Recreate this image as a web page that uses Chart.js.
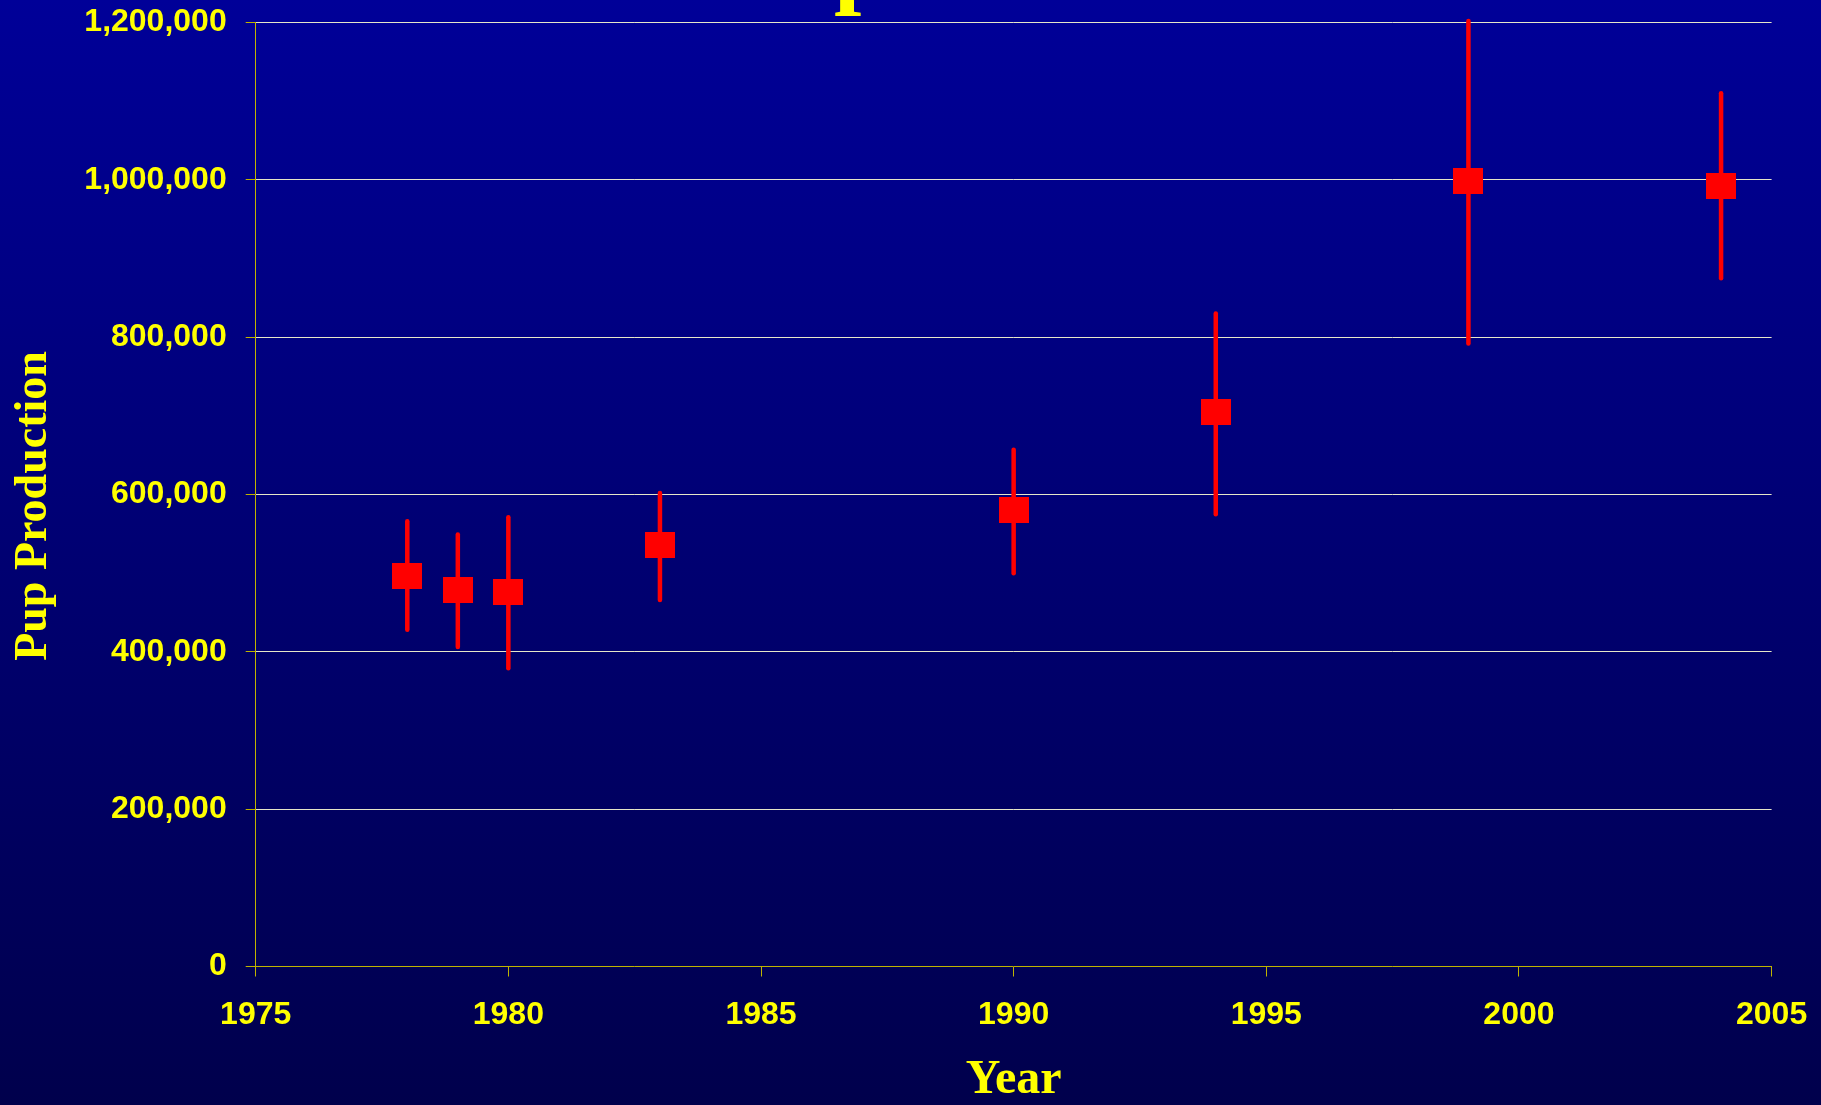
<!DOCTYPE html>
<html>
<head>
<meta charset="utf-8">
<script src="https://cdn.jsdelivr.net/npm/chart.js@4"></script>
<style>
  html, body { margin: 0; padding: 0; }
  body {
    width: 1821px; height: 1105px; overflow: hidden;
    background: linear-gradient(to bottom, #000098 0%, #00004c 100%);
  }
  #wrap { position: relative; width: 1821px; height: 1105px; }
</style>
</head>
<body>
<div id="wrap"><canvas id="pupChart" width="1821" height="1105"></canvas></div>
<script>
// survey years and pup production estimates (with 95% limits)
const years = [1978, 1979, 1980, 1983, 1990, 1994, 1999, 2004];
const estimates = [497000, 478000, 476000, 536000, 580000, 705000, 999000, 992000];
const lowerLimits = [428000, 406000, 379000, 466000, 500000, 575000, 792000, 875000];
const upperLimits = [566000, 549000, 571000, 602000, 657000, 830000, 1202000, 1110000];
const xTicks = [1975, 1980, 1985, 1990, 1995, 2000, 2005];
const yTicks = [0, 200000, 400000, 600000, 800000, 1000000, 1200000];

const YELLOW = '#ffff00';
const AXIS = '#bfb400';
const RED = '#ff0000';

// red box marker, a bit wider than tall
var box = document.createElement('canvas');
box.width = 30; box.height = 26;
var bctx = box.getContext('2d');
bctx.fillStyle = RED;
bctx.fillRect(0, 0, 30, 26);

// vertical error bars drawn through the scales
const errorBars = {
    id: 'errorBars',
    beforeDatasetsDraw(chart) {
        var ctx = chart.ctx;
        var xs = chart.scales.x, ys = chart.scales.y;
        ctx.save();
        ctx.strokeStyle = RED;
        ctx.lineWidth = 4.5;
        ctx.lineCap = 'round';
        years.forEach(function (yr, i) {
            var px = xs.getPixelForValue(yr);
            ctx.beginPath();
            ctx.moveTo(px, ys.getPixelForValue(lowerLimits[i]));
            ctx.lineTo(px, ys.getPixelForValue(upperLimits[i]));
            ctx.stroke();
        });
        ctx.restore();
    }
};

// the slide title sits above the frame, only the tail of its "p" shows
const clippedTitle = {
    id: 'clippedTitle',
    afterDraw(chart) {
        var ctx = chart.ctx;
        ctx.save();
        ctx.fillStyle = YELLOW;
        ctx.font = 'bold 98px "Liberation Serif"';
        ctx.textBaseline = 'alphabetic';
        ctx.textAlign = 'left';
        ctx.fillText('p', 834, -5);
        ctx.restore();
    }
};

// keep the plot frame where the layout padding puts it
function noEdgePadding(s) {
    s.paddingTop = 0; s.paddingBottom = 0;
    s.paddingLeft = 0; s.paddingRight = 0;
}

document.addEventListener('DOMContentLoaded', function () {
    var ctx = document.getElementById('pupChart').getContext('2d');
    new Chart(ctx, {
        type: 'scatter',
        data: {
            datasets: [{
                label: 'Pup Production',
                data: years.map((yr, i) => ({x: yr, y: estimates[i]})),
                pointStyle: box,
                backgroundColor: RED,
                borderColor: RED,
                showLine: false
            }]
        },
        options: {
            responsive: false,
            animation: false,
            events: [],
            layout: { padding: { left: 0, top: 22.5, right: 49.4, bottom: 0 } },
            plugins: { legend: { display: false }, tooltip: { enabled: false } },
            scales: {
                x: {
                    type: 'linear',
                    min: 1975, max: 2005,
                    afterBuildTicks: s => { s.ticks = xTicks.map(v => ({value: v})); },
                    afterFit: s => { s.height = 138.5; noEdgePadding(s); },
                    ticks: {
                        color: YELLOW,
                        padding: 19,
                        maxRotation: 0,
                        font: { family: '"Liberation Sans", Arial', size: 32, weight: 'bold' },
                        callback: v => String(v)
                    },
                    grid: { drawOnChartArea: false, tickLength: 10, tickColor: AXIS, lineWidth: 1 },
                    border: { color: AXIS, width: 1 },
                    title: {
                        display: true,
                        text: 'Year',
                        color: YELLOW,
                        padding: { top: 0, bottom: 0 },
                        font: { family: '"Liberation Serif", "Times New Roman"', size: 48, weight: 'bold', lineHeight: 1 }
                    }
                },
                y: {
                    min: 0, max: 1200000,
                    afterBuildTicks: s => { s.ticks = yTicks.map(v => ({value: v})); },
                    afterFit: s => { s.width = 255.7; noEdgePadding(s); },
                    ticks: {
                        color: YELLOW,
                        padding: 19,
                        font: { family: '"Liberation Sans", Arial', size: 32, weight: 'bold' },
                        callback: v => v.toLocaleString('en-US')
                    },
                    grid: {
                        color: c => (c.tick && c.tick.value === 0) ? 'rgba(0,0,0,0)' : '#e6e6c8',
                        tickColor: AXIS,
                        tickLength: 10,
                        lineWidth: 1
                    },
                    border: { color: AXIS, width: 1 },
                    title: {
                        display: true,
                        text: 'Pup Production  ',
                        color: YELLOW,
                        padding: { top: 11, bottom: 0 },
                        font: { family: '"Liberation Serif", "Times New Roman"', size: 46, weight: 'bold', lineHeight: 1 }
                    }
                }
            }
        },
        plugins: [errorBars, clippedTitle]
    });
});
</script>
</body>
</html>
